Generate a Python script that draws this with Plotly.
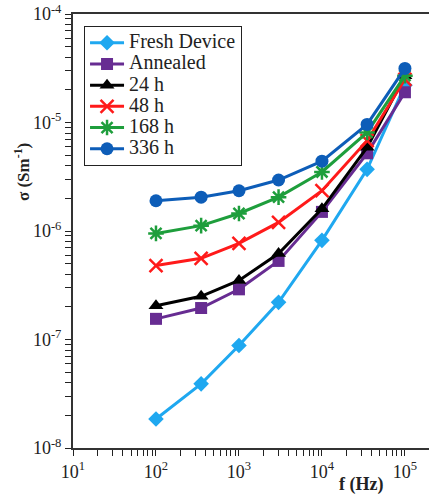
import plotly.graph_objects as go

freq = [100, 350, 1000, 3000, 10000, 35000, 100000]

fresh = [1.85e-8, 3.9e-8, 8.8e-8, 2.2e-7, 8.2e-7, 3.7e-6, 2.2e-5]
annealed = [1.55e-7, 1.95e-7, 2.9e-7, 5.3e-7, 1.5e-6, 5.2e-6, 1.9e-5]
h24 = [2.05e-7, 2.5e-7, 3.5e-7, 6.2e-7, 1.6e-6, 5.9e-6, 2.7e-5]
h48 = [4.8e-7, 5.6e-7, 7.7e-7, 1.2e-6, 2.35e-6, 6.8e-6, 2.5e-5]
h168 = [9.5e-7, 1.12e-6, 1.45e-6, 2.05e-6, 3.5e-6, 8.1e-6, 2.7e-5]
h336 = [1.9e-6, 2.05e-6, 2.35e-6, 2.95e-6, 4.4e-6, 9.6e-6, 3.15e-5]

names = ["Fresh Device", "Annealed", "24 h", "48 h", "168 h", "336 h"]
series = [fresh, annealed, h24, h48, h168, h336]
colors = ["#1FA8F0", "#672C92", "#000000", "#FF1A1A", "#1E9E3C", "#0D5DB8"]
symbols = ["diamond", "square", "triangle-up", "x-thin-open", "asterisk-open", "circle"]
sizes = [12, 12, 13, 13, 13, 13]

ydecades = [-8, -7, -6, -5, -4]
yticklabels = ["10<sup>-8</sup>", "10<sup>-7</sup>", "10<sup>-6</sup>", "10<sup>-5</sup>", "10<sup>-4</sup>"]
xdecades = [1, 2, 3, 4, 5]
xticklabels = ["10<sup>1</sup>", "10<sup>2</sup>", "10<sup>3</sup>", "10<sup>4</sup>", "10<sup>5</sup>"]


def log_ticks(decades, labels):
    vals, text = [], []
    for i, (d, lab) in enumerate(zip(decades, labels)):
        vals.append(10.0 ** d)
        text.append(lab)
        if i < len(decades) - 1:
            for m in range(2, 10):
                vals.append(m * 10.0 ** d)
                text.append("")
    return vals, text


xtv, xtt = log_ticks(xdecades, xticklabels)
ytv, ytt = log_ticks(ydecades, yticklabels)

serif = "Liberation Serif"

fig = go.Figure()
for name, ys, c, s, sz in zip(names, series, colors, symbols, sizes):
    fig.add_trace(go.Scatter(
        x=freq, y=ys, mode="lines+markers",
        name='<span style="font-size:20px">' + name + "</span>",
        line=dict(color=c, width=3),
        marker=dict(symbol=s, size=sz, color=c, line=dict(color=c, width=2.5 if "open" in s else 0)),
    ))

fig.update_layout(
    width=429, height=498,
    margin=dict(l=73, r=0, t=14, b=50),
    paper_bgcolor="white", plot_bgcolor="white",
    font=dict(family=serif, color="#222222", size=17),
    showlegend=True,
    legend=dict(
        x=0.031, y=0.972, xanchor="left", yanchor="top",
        bgcolor="white", bordercolor="#222222", borderwidth=1,
        font=dict(family=serif, size=14, color="#222222"),
        tracegroupgap=0, itemwidth=34,
    ),
    xaxis=dict(
        type="log", range=[1, 5.29],
        tickmode="array", tickvals=xtv, ticktext=xtt,
        ticks="outside", ticklen=6, tickwidth=1.2, tickcolor="#222222",
        showline=True, linecolor="#333333", linewidth=2, mirror=True,
        showgrid=False, zeroline=False,
        tickfont=dict(family=serif, size=18),
    ),
    yaxis=dict(
        type="log", range=[-8, -4],
        tickmode="array", tickvals=ytv, ticktext=ytt,
        ticks="outside", ticklen=6, tickwidth=1.2, tickcolor="#222222",
        showline=True, linecolor="#333333", linewidth=2,
        showgrid=False, zeroline=False,
        tickfont=dict(family=serif, size=18),
    ),
    annotations=[
        dict(text="<b>σ (Sm<sup>-1</sup>)</b>", xref="paper", yref="paper",
             x=-0.143, y=0.636, xanchor="center", yanchor="middle",
             textangle=-90, showarrow=False,
             font=dict(family=serif, size=17, color="#222222")),
        dict(text="<b>f (Hz)</b>", xref="paper", yref="paper",
             x=0.81, y=-0.085, xanchor="center", yanchor="middle", showarrow=False,
             font=dict(family=serif, size=18, color="#222222")),
    ],
)

fig.write_html("out.html")
